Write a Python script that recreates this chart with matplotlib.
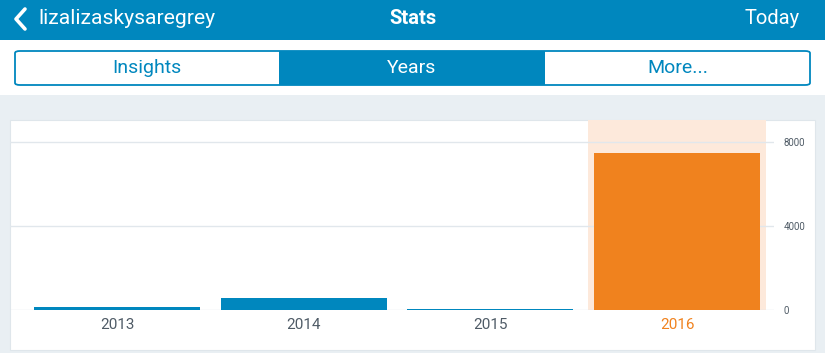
import matplotlib
matplotlib.use("Agg")
import matplotlib.pyplot as plt
from matplotlib.patches import Rectangle, FancyBboxPatch
from matplotlib.lines import Line2D

years = ["2013", "2014", "2015", "2016"]
views = [160, 570, 50, 7480]
yticks = [0, 4000, 8000]
tabs = ["Insights", "Years", "More..."]
site_name = "lizalizaskysaregrey"
title = "Stats"
right_label = "Today"

W, H = 825, 353
BLUE = "#0087be"
ORANGE = "#f0821e"
PEACH = "#fde9db"
GRAYBG = "#e9eff3"
GRID = "#e1e7ec"
LABEL = "#4f5b66"

plt.rcParams["font.family"] = ["Roboto", "DejaVu Sans"]
fig = plt.figure(figsize=(W / 100, H / 100), dpi=100)
fig.patch.set_facecolor(GRAYBG)


def fx(x):
    return x / W


def fy(y):
    return 1 - y / H


def rect(x0, y0, x1, y1, **kw):
    fig.patches.append(Rectangle((fx(x0), fy(y1)), fx(x1) - fx(x0), fy(y0) - fy(y1),
                                 transform=fig.transFigure, zorder=-5, **kw))


# header bar
rect(0, 0, W, 40, facecolor=BLUE, edgecolor="none")
rect(0, 40, W, 95, facecolor="white", edgecolor="none")
fig.lines.append(Line2D([fx(25), fx(16), fx(25)], [fy(9), fy(19), fy(29)],
                        transform=fig.transFigure, color="white", lw=2.6,
                        solid_capstyle="round", solid_joinstyle="round"))
fig.text(fx(38), fy(19), site_name, color="white", fontsize=15.2, va="center", ha="left")
fig.text(fx(413), fy(19), title, color="white", fontsize=14.5, fontweight="bold",
         va="center", ha="center")
fig.text(fx(800), fy(19), right_label, color="white", fontsize=14.5, va="center", ha="right")

# segmented control
seg_x = [15, 279, 545, 810]
rect(seg_x[1], 51, seg_x[2], 85, facecolor=BLUE, edgecolor="none")
box = FancyBboxPatch((fx(15), fy(85)), fx(810) - fx(15), fy(51) - fy(85),
                     boxstyle="round,pad=0,rounding_size=0.006",
                     transform=fig.transFigure, facecolor="none", edgecolor=BLUE, lw=1.3)
fig.patches.append(box)
for i, t in enumerate(tabs):
    cx = (seg_x[i] + seg_x[i + 1]) / 2
    fig.text(fx(cx), fy(68), t, color="white" if i == 1 else BLUE, fontsize=14,
             va="center", ha="center")

# card
rect(10, 120, 815, 350, facecolor="white", edgecolor="#dfe6eb", lw=0.8)

# chart axes
ax_l, ax_r, ax_t, ax_b = 10, 774, 120, 310
ax = fig.add_axes([fx(ax_l), fy(ax_b), fx(ax_r) - fx(ax_l), fy(ax_t) - fy(ax_b)])
ax.set_zorder(5)
ax.set_facecolor("none")
x = list(range(len(years)))
ax.set_xlim(-0.576, 3.52)
ax.set_ylim(0, 9050)
ax.bar([x[-1]], [9050], width=0.955, color=PEACH, zorder=0)
colors = [BLUE] * (len(years) - 1) + [ORANGE]
ax.bar(x, views, width=0.89, color=colors, zorder=2)
ax.yaxis.tick_right()
ax.set_yticks(yticks)
ax.set_yticklabels([str(v) for v in yticks], fontsize=7, color=LABEL)
ax.tick_params(axis="y", length=0, pad=7)
for v in yticks:
    ax.axhline(v, color=GRID, lw=1, zorder=1)
ax.set_xticks(x)
ax.set_xticklabels(years, fontsize=11, color=LABEL)
ax.get_xticklabels()[-1].set_color(ORANGE)
ax.tick_params(axis="x", length=0, pad=6)
for s in ax.spines.values():
    s.set_visible(False)

fig.savefig("out.png", dpi=100, facecolor=fig.get_facecolor())
